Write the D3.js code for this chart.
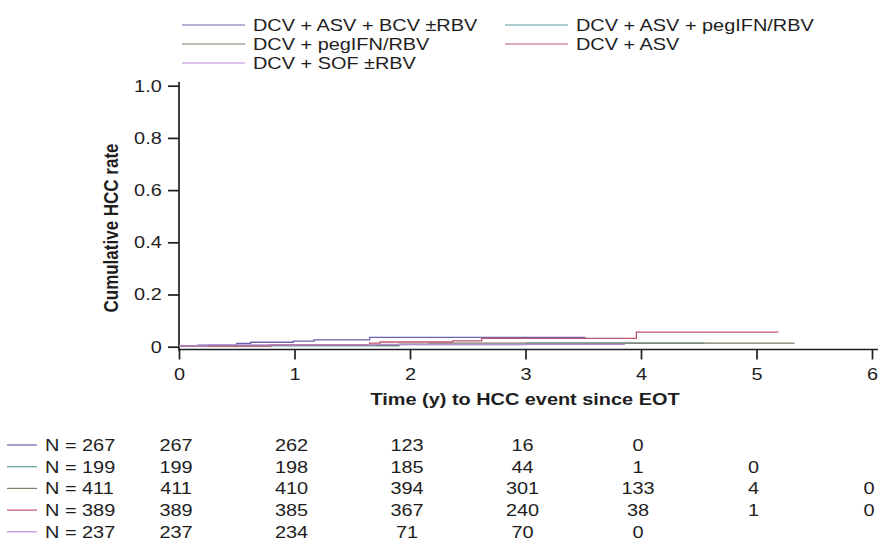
<!DOCTYPE html>
<html>
<head>
<meta charset="utf-8">
<script src="https://cdn.jsdelivr.net/npm/d3@7"></script>
<style>
  body { margin: 0; background: #fff; }
  svg { font-family: "Liberation Sans", Arial, sans-serif; }
</style>
</head>
<body>
<div id="chart"></div>
<script>
// series, in legend order
const seriesNames = ["DCV + ASV + BCV ±RBV", "DCV + ASV + pegIFN/RBV", "DCV + pegIFN/RBV", "DCV + ASV", "DCV + SOF ±RBV"];
const seriesColors = ["#6a62ae", "#5e9d9b", "#7d7a66", "#c25570", "#b68ad8"];

// step curves: time (y) of each step and cumulative rate after it
const stepTimes = [
  [0, 0.16, 0.5, 0.62, 0.99, 1.17, 1.65],
  [0, 1.9, 3.01],
  [0, 0.8, 1.91, 2.17],
  [0, 0.78, 1.65, 1.74, 2.37, 2.62, 3.96],
  [0, 0.25, 1.7]
];
const stepValues = [
  [0.003, 0.006, 0.013, 0.017, 0.021, 0.026, 0.036],
  [0.003, 0.008, 0.014],
  [0.002, 0.006, 0.010, 0.014],
  [0.002, 0.008, 0.014, 0.018, 0.022, 0.032, 0.056],
  [0.003, 0.007, 0.009]
];
const endTimes = [3.52, 4.55, 5.33, 5.19, 3.86];

// numbers at risk
const riskTimes = [0, 1, 2, 3, 4, 5, 6];
const riskTotals = [267, 199, 411, 389, 237];
const riskCounts = [
  [267, 262, 123, 16, 0, null, null],
  [199, 198, 185, 44, 1, 0, null],
  [411, 410, 394, 301, 133, 4, 0],
  [389, 385, 367, 240, 38, 1, 0],
  [237, 234, 71, 70, 0, null, null]
];

const xTicks = [0, 1, 2, 3, 4, 5, 6];
const yTicks = [0, 0.2, 0.4, 0.6, 0.8, 1.0];

const w = 886, h = 544;
const sx = 1.17;          // text in the figure is a little wide
const ink = "#1e1e1e";

const svg = d3.select("#chart").append("svg")
    .attr("width", w)
    .attr("height", h);

const x = d3.scaleLinear().domain([0, 6]).range([179, 872]);
const y = d3.scaleLinear().domain([0, 1]).range([346.7, 85.7]);

function addText(g, tx, ty, str, anchor, bold) {
  return g.append("text")
      .attr("transform", "translate(" + tx + "," + ty + ") scale(" + sx + ",1)")
      .attr("text-anchor", anchor || "start")
      .attr("font-size", "17px")
      .attr("font-weight", bold ? "bold" : "normal")
      .attr("fill", ink)
      .text(str);
}

// legend
const legend = svg.append("g");
seriesNames.forEach(function(name, i) {
  const col = i % 2, row = Math.floor(i / 2);
  const lx = col === 0 ? 182 : 505;
  const ly = 25 + row * 19;
  legend.append("line")
      .attr("x1", lx).attr("x2", lx + 63)
      .attr("y1", ly).attr("y2", ly)
      .style("stroke", seriesColors[i])
      .style("stroke-width", 1.2);
  addText(legend, lx + 71, ly + 6, name);
});

// axes
const xAxis = svg.append("g")
    .attr("transform", "translate(0,349.5)")
    .call(d3.axisBottom(x).tickValues(xTicks).tickFormat(d3.format("d")).tickSize(10).tickPadding(8).tickSizeOuter(0));
xAxis.select(".domain").attr("d", "M179,0H878");
xAxis.selectAll(".tick text").attr("transform", "scale(" + sx + ",1)");

const yAxis = svg.append("g")
    .attr("transform", "translate(179,0)")
    .call(d3.axisLeft(y).tickValues(yTicks)
      .tickFormat(function(d) { return d === 0 ? "0" : d3.format(".1f")(d); })
      .tickSize(11).tickPadding(6).tickSizeOuter(0));
yAxis.select(".domain").attr("d", "M0,82V351");
yAxis.selectAll(".tick text")
    .attr("x", -17.3 / sx)
    .attr("transform", "scale(" + sx + ",1)");

svg.selectAll(".tick text").attr("font-size", "17px").attr("fill", ink)
    .attr("font-family", "Liberation Sans, Arial, sans-serif");
svg.selectAll(".domain, .tick line").style("stroke", ink).style("stroke-width", 1.7);

addText(svg, 525, 405, "Time (y) to HCC event since EOT", "middle", true);

svg.append("text")
    .attr("transform", "translate(118,228) scale(" + sx + ",1) rotate(-90)")
    .attr("text-anchor", "middle")
    .attr("font-size", "17px")
    .attr("font-weight", "bold")
    .attr("fill", ink)
    .text("Cumulative HCC rate");

// step curves
const curve = d3.line()
    .x(function(d) { return x(d[0]); })
    .y(function(d) { return y(d[1]); })
    .curve(d3.curveStepAfter);

const curveData = stepTimes.map(function(ts, i) {
  const pts = ts.map(function(t, j) { return [t, stepValues[i][j]]; });
  pts.push([endTimes[i], stepValues[i][stepValues[i].length - 1]]);
  return pts;
});

svg.selectAll("path.km")
    .data(curveData)
    .enter()
    .append("path")
    .attr("class", "km")
    .attr("d", curve)
    .style("fill", "none")
    .style("stroke", function(d, i) { return seriesColors[i]; })
    .style("stroke-width", 1.3);

// numbers at risk
const risk = svg.append("g");
riskTotals.forEach(function(n, i) {
  const ry = 445 + i * 21.7;
  risk.append("line")
      .attr("x1", 7).attr("x2", 37)
      .attr("y1", ry).attr("y2", ry)
      .style("stroke", seriesColors[i])
      .style("stroke-width", 1.2);
  addText(risk, 45, ry + 6, "N = " + n);
  riskCounts[i].forEach(function(c, j) {
    if (c === null) return;
    addText(risk, x(riskTimes[j]) - 3, ry + 6, c, "middle");
  });
});
</script>
</body>
</html>
